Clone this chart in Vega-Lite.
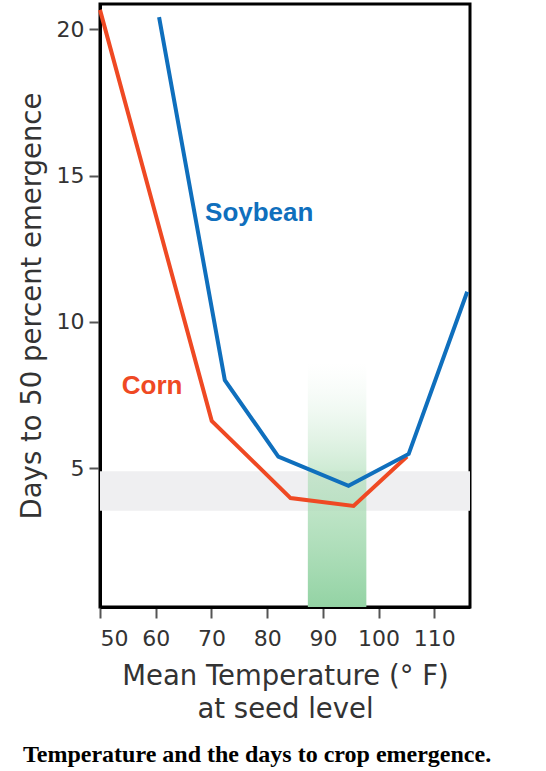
{
  "$schema": "https://vega.github.io/schema/vega-lite/v6.json",
  "autosize": {"type": "none"},
  "padding": {"left": 100, "top": 4, "right": 76, "bottom": 164},
  "width": 370,
  "height": 603,
  "background": "white",
  "title": {
    "text": "Temperature and the days to crop emergence.",
    "orient": "bottom",
    "anchor": "start",
    "frame": "group",
    "dx": -77,
    "offset": 20,
    "font": "Liberation Serif",
    "fontSize": 24,
    "fontWeight": "bold",
    "color": "black"
  },
  "datasets": {
    "bands": [{"y0": 3.55, "y1": 4.9}],
    "optimum": [{"x0": 87.3, "x1": 97.8, "y0": 0.26, "y1": 8.6}],
    "crops": [
      {"crop": "Corn", "temp": 50, "days": 20.66},
      {"crop": "Corn", "temp": 70.05, "days": 6.62},
      {"crop": "Corn", "temp": 84.2, "days": 3.98},
      {"crop": "Corn", "temp": 95.5, "days": 3.71},
      {"crop": "Corn", "temp": 105.1, "days": 5.4},
      {"crop": "Soybean", "temp": 60.6, "days": 20.41},
      {"crop": "Soybean", "temp": 72.4, "days": 8.01},
      {"crop": "Soybean", "temp": 82.0, "days": 5.4},
      {"crop": "Soybean", "temp": 94.6, "days": 4.4},
      {"crop": "Soybean", "temp": 105.4, "days": 5.49},
      {"crop": "Soybean", "temp": 115.9, "days": 11.03}
    ],
    "labels": [
      {"crop": "Corn", "temp": 53.9, "days": 7.53},
      {"crop": "Soybean", "temp": 68.85, "days": 13.45}
    ]
  },
  "encoding": {
    "x": {
      "type": "quantitative",
      "scale": {"domain": [50, 116.4], "nice": false, "zero": false},
      "axis": {
        "values": [50, 60, 70, 80, 90, 100, 110],
        "title": ["Mean Temperature (° F)", "at seed level"],
        "titleLineHeight": 33,
        "titlePadding": 13,
        "labelPadding": 10
      }
    },
    "y": {
      "type": "quantitative",
      "scale": {"domain": [0.26, 20.86], "nice": false, "zero": false},
      "axis": {
        "values": [5, 10, 15, 20],
        "title": "Days to 50 percent emergence",
        "titlePadding": 10,
        "labelPadding": 5
      }
    }
  },
  "layer": [
    {
      "data": {"name": "bands"},
      "mark": {"type": "rect", "color": "#efeff1"},
      "encoding": {
        "y": {"field": "y0", "type": "quantitative"},
        "y2": {"field": "y1"}
      }
    },
    {
      "data": {"name": "optimum"},
      "mark": {
        "type": "rect",
        "color": {
          "gradient": "linear",
          "x1": 0, "y1": 1, "x2": 0, "y2": 0,
          "stops": [
            {"offset": 0, "color": "rgba(147,211,164,1)"},
            {"offset": 0.55, "color": "rgba(170,220,180,0.6)"},
            {"offset": 1, "color": "rgba(220,240,225,0)"}
          ]
        }
      },
      "encoding": {
        "x": {"field": "x0", "type": "quantitative"},
        "x2": {"field": "x1"},
        "y": {"field": "y0", "type": "quantitative"},
        "y2": {"field": "y1"}
      }
    },
    {
      "data": {"name": "crops"},
      "mark": {"type": "line", "strokeWidth": 4, "strokeJoin": "miter"},
      "encoding": {
        "x": {"field": "temp", "type": "quantitative"},
        "y": {"field": "days", "type": "quantitative"},
        "color": {
          "field": "crop",
          "type": "nominal",
          "scale": {"domain": ["Corn", "Soybean"], "range": ["#ef4923", "#0f6fbd"]},
          "legend": null
        }
      }
    },
    {
      "data": {"name": "labels"},
      "mark": {
        "type": "text",
        "align": "left",
        "baseline": "alphabetic",
        "font": "Liberation Sans",
        "fontSize": 26,
        "fontWeight": "bold"
      },
      "encoding": {
        "x": {"field": "temp", "type": "quantitative"},
        "y": {"field": "days", "type": "quantitative"},
        "text": {"field": "crop"},
        "color": {
          "field": "crop",
          "type": "nominal",
          "scale": {"domain": ["Corn", "Soybean"], "range": ["#ef4923", "#0f6fbd"]},
          "legend": null
        }
      }
    }
  ],
  "config": {
    "view": {"stroke": "black", "strokeWidth": 3},
    "axis": {
      "grid": false,
      "domainColor": "black",
      "domainWidth": 3,
      "tickColor": "#555",
      "tickWidth": 2,
      "tickSize": 11,
      "labelFont": "DejaVu Sans",
      "labelFontSize": 22,
      "labelColor": "#333",
      "titleFont": "DejaVu Sans",
      "titleFontSize": 27.5,
      "titleFontWeight": "normal",
      "titleColor": "#333"
    }
  }
}
